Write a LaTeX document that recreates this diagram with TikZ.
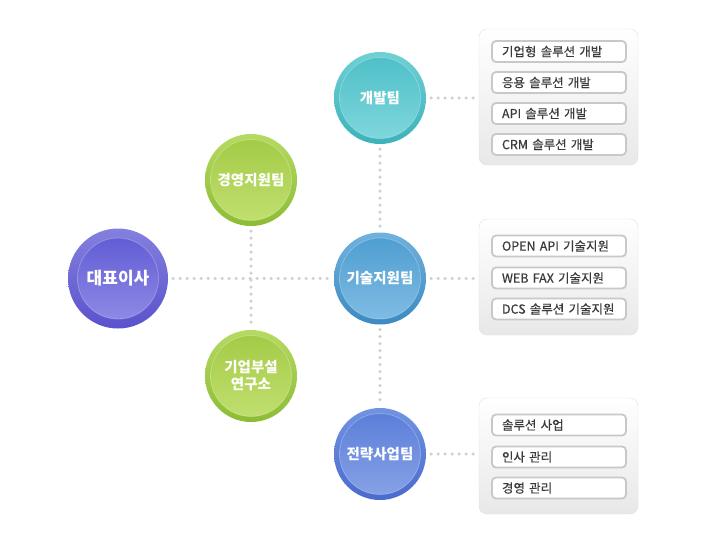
\documentclass[tikz,border=0pt]{standalone}
\usepackage{fontspec}
\setmainfont{Noto Sans CJK KR}
\newfontfamily\itemfont[FakeBold=0.4]{Noto Sans CJK KR}
\usepackage{tikz}
\definecolor{ceoA}{HTML}{8480DE}\definecolor{ceoB}{HTML}{5A52CC}
\definecolor{ceoC}{HTML}{5E58D4}\definecolor{ceoD}{HTML}{928EE6}
\definecolor{grnA}{HTML}{B6DA62}\definecolor{grnB}{HTML}{8CBC34}
\definecolor{grnC}{HTML}{A2CA44}\definecolor{grnD}{HTML}{C2E072}
\definecolor{devA}{HTML}{70D0D6}\definecolor{devB}{HTML}{3CB2BA}
\definecolor{devC}{HTML}{4CBEC6}\definecolor{devD}{HTML}{82D8DE}
\definecolor{tecA}{HTML}{70B2DE}\definecolor{tecB}{HTML}{3C8AC2}
\definecolor{tecC}{HTML}{4C9CD0}\definecolor{tecD}{HTML}{82BEE4}
\definecolor{strA}{HTML}{7094E2}\definecolor{strB}{HTML}{4A6ACE}
\definecolor{strC}{HTML}{5A7CD8}\definecolor{strD}{HTML}{88A4E6}
\definecolor{dotc}{HTML}{D0D0D0}
\definecolor{boxline}{HTML}{C8C8C8}
\definecolor{itemtext}{HTML}{3A3A3A}

\begin{document}
\begin{tikzpicture}[x=1pt,y=-1pt,
    orb/.style n args={4}{circle,minimum size=92pt,inner sep=0pt,
        top color=#1,bottom color=#2,text=white,align=center,
        font=\bfseries\fontsize{14.5}{17}\selectfont,
        path picture={\shadedraw[top color=#3,bottom color=#4,draw=white,draw opacity=.25,line width=.8pt]
            (path picture bounding box.center) circle (40.5pt);}},
    panel/.style={draw=black!12,rounded corners=8pt,top color=white,middle color=white,
        bottom color=black!9,minimum width=159pt,inner sep=0pt},
    item/.style={draw=boxline,line width=1.8pt,rounded corners=4pt,fill=white,
        minimum height=21pt,text width=114pt,inner xsep=10pt,inner ysep=0pt,align=left,
        text=itemtext,font=\itemfont\fontsize{12.5}{14}\selectfont},
    dots/.style={draw=dotc,line width=3.5pt,line cap=round,dash pattern=on 0pt off 7pt,
        shorten <=5pt,shorten >=5pt}]
    \useasboundingbox (0,0) rectangle (710,541);
    \node[orb={ceoA}{ceoB}{ceoC}{ceoD},minimum size=100pt,
        font=\bfseries\fontsize{17}{20}\selectfont](ceo)at(118, 278.5){대표이사};
    \node[orb={grnA}{grnB}{grnC}{grnD}](mgmt)at(251, 180){경영지원팀};
    \node[orb={grnA}{grnB}{grnC}{grnD}](lab)at(251, 376){기업부설\\연구소};
    \node[orb={devA}{devB}{devC}{devD}](dev)at(380, 98){개발팀};
    \node[orb={tecA}{tecB}{tecC}{tecD}](tech)at(380, 278.5){기술지원팀};
    \node[orb={strA}{strB}{strC}{strD}](strat)at(380, 454){전략사업팀};
    \node[panel,minimum height=136pt](devbox)at(558.5, 97){};
    \node[panel,minimum height=116pt](techbox)at(558.5, 277){};
    \node[panel,minimum height=116pt](stratbox)at(558.5, 456){};
    \node[item](dev1)at(559, 51.5){기업형 솔루션 개발};
    \node[item](dev2)at(559, 82.5){응용 솔루션 개발};
    \node[item](dev3)at(559, 113.5){API 솔루션 개발};
    \node[item](dev4)at(559, 144.5){CRM 솔루션 개발};
    \node[item](tech1)at(559, 246){OPEN API 기술지원};
    \node[item](tech2)at(559, 278){WEB FAX 기술지원};
    \node[item](tech3)at(559, 309){DCS 솔루션 기술지원};
    \node[item](strat1)at(559, 425){솔루션 사업};
    \node[item](strat2)at(559, 457){인사 관리};
    \node[item](strat3)at(559, 488){경영 관리};
    \draw[dots](ceo)--(tech);
    \draw[dots](mgmt)--(lab);
    \draw[dots](dev)--(tech);
    \draw[dots](tech)--(strat);
    \draw[dots](dev.east)--(dev.east -| devbox.west);
    \draw[dots](tech.east)--(tech.east -| techbox.west);
    \draw[dots](strat.east)--(strat.east -| stratbox.west);
\end{tikzpicture}
\end{document}
